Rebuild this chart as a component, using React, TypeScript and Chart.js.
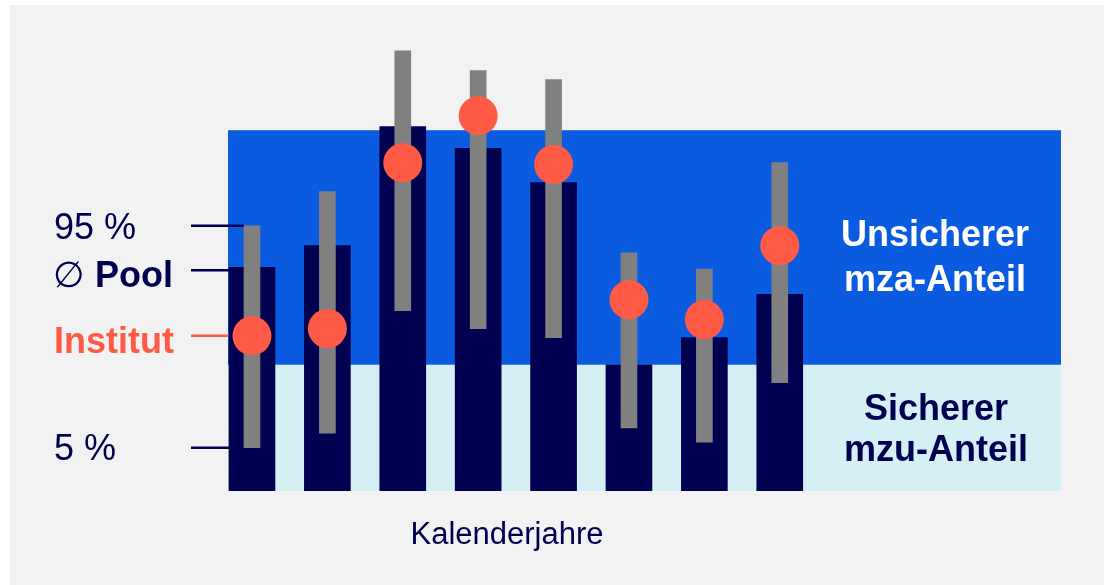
import React, { useEffect, useRef } from "react";
import { Chart, registerables } from "chart.js";

Chart.register(...registerables);

// Slot positions of the calendar years (no year labels are shown)
const yearSlots = [0, 1, 2, 3, 4, 5, 6, 7];
// Pool average (navy bars)
const poolAvg = [62, 68, 101, 95, 85.5, 35, 42.5, 54.5];
// 5 % and 95 % quantiles (grey range bars)
const q05 = [12, 16, 50, 45, 42.5, 17.5, 13.5, 30];
const q95 = [73.5, 83, 122, 116.5, 114, 66, 61.5, 91];
// Institute value (red dots)
const institut = [43, 45, 91, 104, 90.5, 53, 47.5, 68];
// Band limits: sicher 0–35, unsicher 35–100
const bandLimits = [0, 35, 100];

const NAVY = "#000050";
const BLUE = "#0b5be0";
const CYAN = "#d4f0f4";
const GREY = "#808080";
const RED = "#ff5a46";
const BG = "#f2f2f2";
const FONT = '"Liberation Sans", Arial, sans-serif';

const decorPlugin = {
  id: "decor",
  beforeDraw(chart: any) {
    const ctx = chart.ctx;
    ctx.save();
    ctx.fillStyle = "#ffffff";
    ctx.fillRect(0, 0, chart.width, chart.height);
    ctx.fillStyle = BG;
    ctx.fillRect(10, 5, chart.width - 10, chart.height - 5);
    ctx.restore();
  },
  beforeDatasetsDraw(chart: any) {
    const ctx = chart.ctx;
    const xs = chart.scales.x;
    const ys = chart.scales.y;
    const x0 = xs.getPixelForValue(xs.min);
    const x1 = xs.getPixelForValue(xs.max);
    ctx.save();
    const yb0 = ys.getPixelForValue(bandLimits[0]);
    const yb1 = ys.getPixelForValue(bandLimits[1]);
    const yb2 = ys.getPixelForValue(bandLimits[2]);
    ctx.fillStyle = CYAN;
    ctx.fillRect(x0, yb1, x1 - x0, yb0 - yb1);
    ctx.fillStyle = BLUE;
    ctx.fillRect(x0, yb2, x1 - x0, yb1 - yb2);

    // annotation lines for first year
    const dotEl = chart.getDatasetMeta(0).data[0];
    const greyEl = chart.getDatasetMeta(1).data[0];
    const navyEl = chart.getDatasetMeta(2).data[0];
    const startX = 191;
    ctx.lineWidth = 2.5;
    const line = (y: number, xe: number, col: string) => {
      ctx.strokeStyle = col;
      ctx.beginPath();
      ctx.moveTo(startX, y);
      ctx.lineTo(xe, y);
      ctx.stroke();
    };
    line(ys.getPixelForValue(q95[0]), greyEl.x - greyEl.width / 2, NAVY);
    line(ys.getPixelForValue(poolAvg[0]) + 3, navyEl.x - navyEl.width / 2, NAVY);
    line(ys.getPixelForValue(institut[0]), dotEl.x - dotEl.options.radius + 2, RED);
    line(ys.getPixelForValue(q05[0]), greyEl.x - greyEl.width / 2, NAVY);
    ctx.restore();
  },
  afterDraw(chart: any) {
    const ctx = chart.ctx;
    const ys = chart.scales.y;
    ctx.save();
    ctx.textBaseline = "alphabetic";
    ctx.textAlign = "left";
    const lx = 54;
    // left labels
    ctx.fillStyle = NAVY;
    ctx.font = `36px ${FONT}`;
    ctx.fillText("95 %", lx, ys.getPixelForValue(q95[0]) + 13);
    ctx.fillText("5 %", lx, ys.getPixelForValue(q05[0]) + 12);
    const poolY = ys.getPixelForValue(poolAvg[0]) + 20;
    ctx.font = `36px "DejaVu Sans", sans-serif`;
    ctx.fillText("∅", lx - 1, poolY);
    ctx.font = `bold 36px ${FONT}`;
    ctx.fillText("Pool", 95, poolY);
    ctx.fillStyle = RED;
    ctx.fillText("Institut", lx, ys.getPixelForValue(institut[0]) + 17);

    // right band labels
    ctx.textAlign = "center";
    ctx.font = `bold 36px ${FONT}`;
    ctx.fillStyle = "#ffffff";
    ctx.fillText("Unsicherer", 935, 246);
    ctx.fillText("mza-Anteil", 935, 291);
    ctx.fillStyle = NAVY;
    ctx.fillText("Sicherer", 936, 420);
    ctx.fillText("mzu-Anteil", 936, 461);

    // axis caption
    ctx.font = `31px ${FONT}`;
    ctx.fillText("Kalenderjahre", 507, 544);
    ctx.restore();
  },
};

export default function App() {
  const ref = useRef<HTMLCanvasElement>(null);
  useEffect(() => {
    if (!ref.current) return;
    const chart = new Chart(ref.current, {
      type: "bar",
      data: {
        datasets: [
          {
            type: "scatter",
            data: yearSlots.map((x, i) => ({ x, y: institut[i] })),
            pointRadius: 19.5,
            pointBackgroundColor: RED,
            pointBorderWidth: 0,
            borderWidth: 0,
            order: 0,
          } as any,
          {
            type: "bar",
            data: yearSlots.map((x, i) => ({ x, y: [q05[i], q95[i]] })),
            backgroundColor: GREY,
            barThickness: 16,
            grouped: false,
            borderWidth: 0,
            order: 1,
          } as any,
          {
            type: "bar",
            data: yearSlots.map((x, i) => ({ x, y: poolAvg[i] })),
            backgroundColor: NAVY,
            barThickness: 46,
            grouped: false,
            borderWidth: 0,
            order: 2,
          } as any,
        ],
      },
      options: {
        animation: false,
        responsive: true,
        maintainAspectRatio: false,
        layout: { padding: { left: 228, right: 43, top: 40, bottom: 94 } },
        plugins: { legend: { display: false }, tooltip: { enabled: false } },
        scales: {
          x: { type: "linear", offset: false, min: -0.318, max: 10.73, display: false, grid: { display: false } },
          y: { type: "linear", min: 0, max: 125, display: false, grid: { display: false } },
        },
      } as any,
      plugins: [decorPlugin],
    });
    return () => chart.destroy();
  }, []);
  return (
    <div style={{ position: "fixed", left: 0, top: 0, width: 1104, height: 585 }}>
      <canvas ref={ref} />
    </div>
  );
}
